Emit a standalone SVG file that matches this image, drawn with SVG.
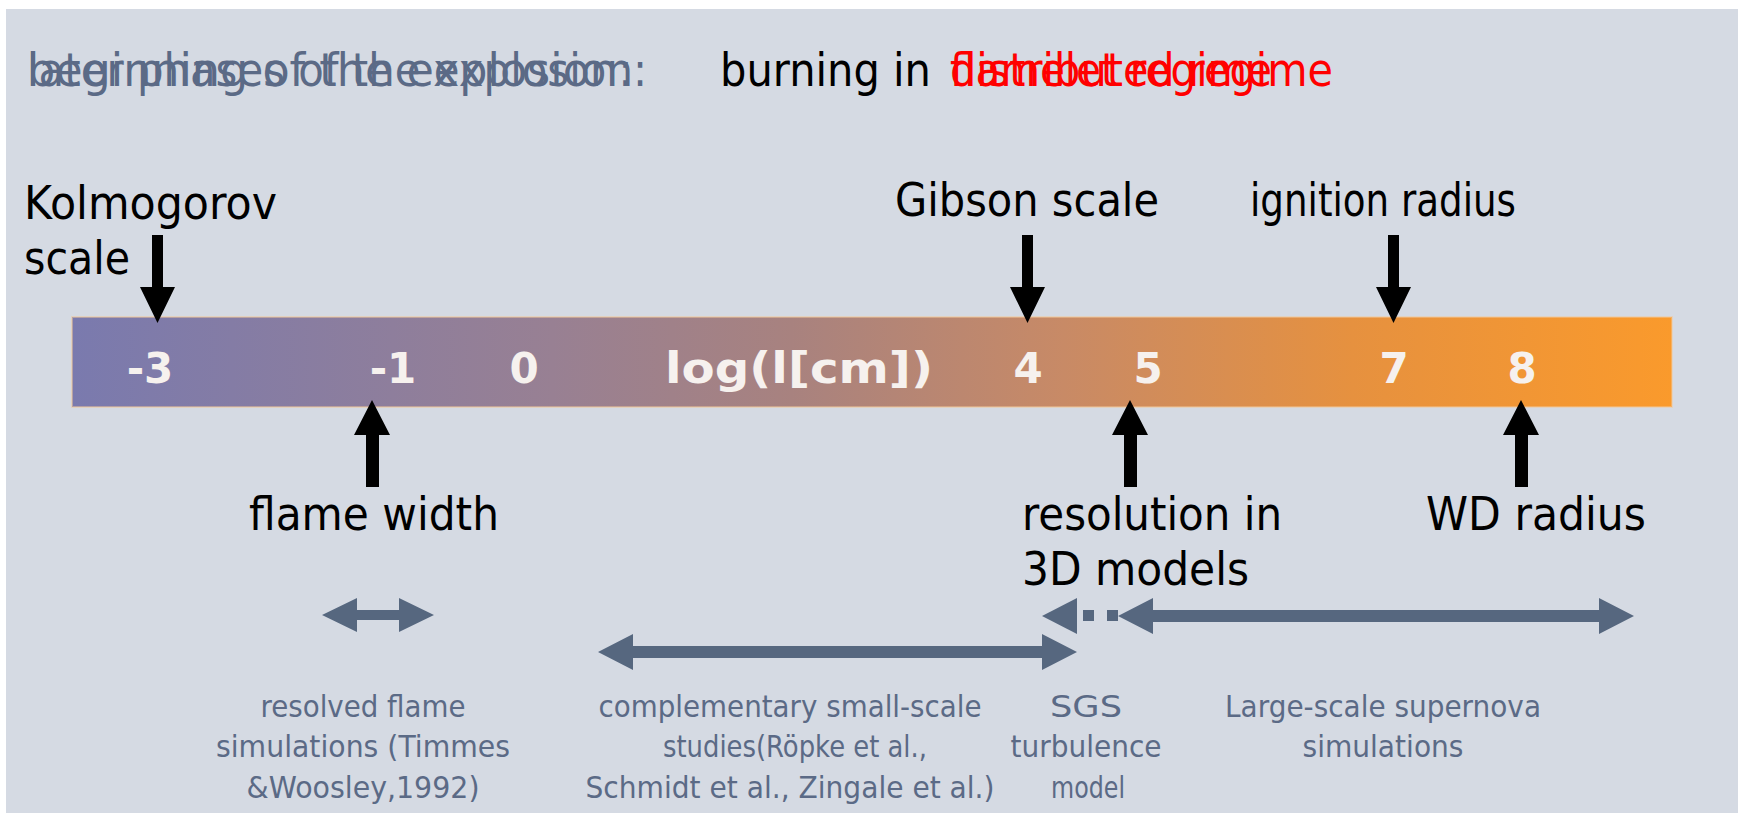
<svg xmlns="http://www.w3.org/2000/svg" width="1738" height="813" viewBox="0 0 1738 813">
<defs>
<linearGradient id="barGrad" x1="0" y1="0" x2="1" y2="0">
<stop offset="0" stop-color="#7a7aae"/>
<stop offset="0.3" stop-color="#988093"/>
<stop offset="0.45" stop-color="#a8827f"/>
<stop offset="0.62" stop-color="#c88a66"/>
<stop offset="0.8" stop-color="#e6913f"/>
<stop offset="1" stop-color="#fa9a2c"/>
</linearGradient>
<style>
.lbl{font-family:"DejaVu Sans",sans-serif;font-size:47px;fill:#000}
.hdr{font-family:"DejaVu Sans",sans-serif;font-size:46px}
.gray{fill:#5b6a86}
.red{fill:#ff0000}
.num{font-family:"DejaVu Sans",sans-serif;font-weight:bold;font-size:42px;fill:#f6f1ee;text-anchor:middle}
.cap{font-family:"DejaVu Sans",sans-serif;font-size:30px;fill:#5b6a86;text-anchor:middle}
.blk{fill:#000}
.ga{fill:#56677f}
</style>
</defs>
<rect x="0" y="0" width="1738" height="813" fill="#ffffff"/>
<rect x="6" y="9" width="1732" height="804" fill="#d5dae3"/>

<g id="title">
<text class="hdr gray" x="27" y="86" textLength="620" lengthAdjust="spacingAndGlyphs">later phases of the explosion:</text>
<text class="hdr gray" x="27" y="86" textLength="606" lengthAdjust="spacingAndGlyphs">beginning of the explosion:</text>
<text class="hdr blk" x="720" y="86" textLength="211" lengthAdjust="spacingAndGlyphs">burning in</text>
<text class="hdr red" x="950" y="86" textLength="383" lengthAdjust="spacingAndGlyphs">distributed regime</text>
<text class="hdr red" x="950" y="86" textLength="322" lengthAdjust="spacingAndGlyphs">flamelet regime</text>
</g>

<g id="scale-bar">
<rect x="72" y="317" width="1600" height="90" fill="url(#barGrad)" stroke="#f2c89a" stroke-opacity="0.5" stroke-width="2"/>
<text class="num" x="150" y="383">-3</text>
<text class="num" x="393" y="383">-1</text>
<text class="num" x="524" y="383">0</text>
<text class="num" x="799" y="383" textLength="268" lengthAdjust="spacingAndGlyphs">log(l[cm])</text>
<text class="num" x="1028" y="383">4</text>
<text class="num" x="1148" y="383">5</text>
<text class="num" x="1394" y="383">7</text>
<text class="num" x="1522" y="383">8</text>
</g>

<g id="kolmogorov">
<text class="lbl" x="24" y="219" textLength="253" lengthAdjust="spacingAndGlyphs">Kolmogorov</text>
<text class="lbl" x="24" y="274" textLength="106" lengthAdjust="spacingAndGlyphs">scale</text>
</g>
<g id="gibson">
<text class="lbl" x="895" y="216" textLength="264" lengthAdjust="spacingAndGlyphs">Gibson scale</text>
</g>
<g id="ignition">
<text class="lbl" x="1250" y="216" textLength="266" lengthAdjust="spacingAndGlyphs">ignition radius</text>
</g>
<g id="flame-width">
<text class="lbl" x="249" y="530" textLength="250" lengthAdjust="spacingAndGlyphs">flame width</text>
</g>
<g id="resolution">
<text class="lbl" x="1022" y="530" textLength="260" lengthAdjust="spacingAndGlyphs">resolution in</text>
<text class="lbl" x="1022" y="585" textLength="227" lengthAdjust="spacingAndGlyphs">3D models</text>
</g>
<g id="wd-radius">
<text class="lbl" x="1426" y="530" textLength="220" lengthAdjust="spacingAndGlyphs">WD radius</text>
</g>

<g id="resolved-flame">
<text class="cap" x="363" y="717" textLength="205" lengthAdjust="spacingAndGlyphs">resolved flame</text>
<text class="cap" x="363" y="757" textLength="294" lengthAdjust="spacingAndGlyphs">simulations (Timmes</text>
<text class="cap" x="363" y="798" textLength="233" lengthAdjust="spacingAndGlyphs">&amp;Woosley,1992)</text>
</g>
<g id="small-scale">
<text class="cap" x="790" y="717" textLength="383" lengthAdjust="spacingAndGlyphs">complementary small-scale</text>
<text class="cap" x="795" y="757" textLength="264" lengthAdjust="spacingAndGlyphs">studies(Röpke et al.,</text>
<text class="cap" x="790" y="798" textLength="409" lengthAdjust="spacingAndGlyphs">Schmidt et al., Zingale et al.)</text>
</g>
<g id="sgs">
<text class="cap" x="1086" y="717" textLength="72" lengthAdjust="spacingAndGlyphs">SGS</text>
<text class="cap" x="1086" y="757" textLength="151" lengthAdjust="spacingAndGlyphs">turbulence</text>
<text class="cap" x="1088" y="798" textLength="74" lengthAdjust="spacingAndGlyphs">model</text>
</g>
<g id="large-scale">
<text class="cap" x="1383" y="717" textLength="316" lengthAdjust="spacingAndGlyphs">Large-scale supernova</text>
<text class="cap" x="1383" y="757" textLength="161" lengthAdjust="spacingAndGlyphs">simulations</text>
</g>

<g id="connectors">
<polygon class="blk" points="152,235 163,235 163,287 175,287 157.5,323 140,287 152,287"/>
<polygon class="blk" points="1022,235 1033,235 1033,287 1045,287 1027.5,323 1010,287 1022,287"/>
<polygon class="blk" points="1388,235 1399,235 1399,287 1411,287 1393.5,323 1376,287 1388,287"/>
<polygon class="blk" points="366,487 379,487 379,435 390,435 372,400 354,435 366,435"/>
<polygon class="blk" points="1124,487 1137,487 1137,435 1148,435 1130,400 1112,435 1124,435"/>
<polygon class="blk" points="1515,487 1528,487 1528,435 1539,435 1521,400 1503,435 1515,435"/>
<polygon class="ga" points="322,615 357,598 357,610 399,610 399,598 434,615 399,632 399,620 357,620 357,632"/>
<polygon class="ga" points="598,652 633,634 633,646 1042,646 1042,634 1077,652 1042,670 1042,658 633,658 633,670"/>
<polygon class="ga" points="1042,616 1077,598 1077,634"/>
<rect class="ga" x="1083" y="610" width="11" height="11"/>
<rect class="ga" x="1107" y="610" width="11" height="11"/>
<polygon class="ga" points="1118,616 1153,598 1153,610 1599,610 1599,598 1634,616 1599,634 1599,622 1153,622 1153,634"/>
</g>
</svg>
